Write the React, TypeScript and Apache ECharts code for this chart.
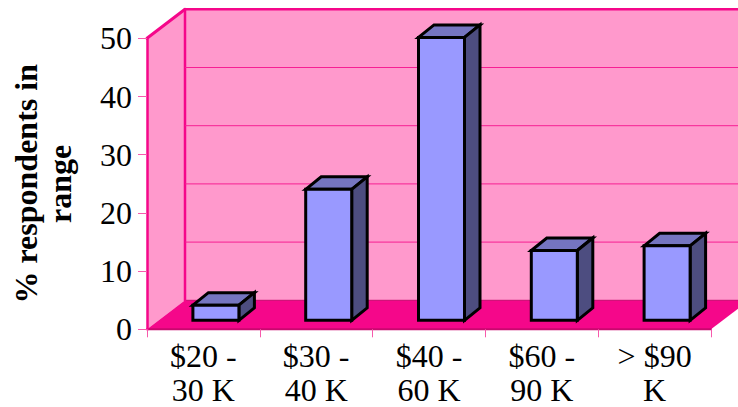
import React, { useEffect, useRef } from "react";
import * as echarts from "echarts";

const categories = ["$20 -\n30 K", "$30 -\n40 K", "$40 -\n60 K", "$60 -\n90 K", "> $90\nK"];
const shares = [2.6, 22.5, 48.6, 12, 12.8];
const gridTicks = [10, 20, 30, 40];

const PINK = "#f5078a";
const WALL = "#ff99cc";
const SERIF = '"Liberation Serif", serif';

// Perspective offsets of the 3D box, in pixels
const ROOM_DX = 38;
const ROOM_DY = -29;
const BAR_INSET_X = 12.5;
const BAR_INSET_Y = -9;
const BAR_WIDTH = 46;
const BAR_DX = 15.5;
const BAR_DY = -12.5;

function renderRoom(params: any) {
  const { x, y, width, height } = params.coordSys;
  const bottom = y + height;
  const right = x + width;
  const solid = (points: number[][], fill: string) => ({
    type: "polygon",
    shape: { points },
    style: { fill, stroke: null },
  });
  const edge = (x1: number, y1: number, x2: number, y2: number, stroke: string, lineWidth: number) => ({
    type: "line",
    shape: { x1, y1, x2, y2 },
    style: { stroke, lineWidth, lineCap: "round" },
  });
  return {
    type: "group",
    children: [
      solid(
        [
          [x + ROOM_DX, y + ROOM_DY],
          [right + ROOM_DX, y + ROOM_DY],
          [right + ROOM_DX, bottom + ROOM_DY],
          [x + ROOM_DX, bottom + ROOM_DY],
        ],
        WALL,
      ),
      solid(
        [
          [x, y],
          [x + ROOM_DX, y + ROOM_DY],
          [x + ROOM_DX, bottom + ROOM_DY],
          [x, bottom],
        ],
        WALL,
      ),
      solid(
        [
          [x, bottom],
          [x + ROOM_DX, bottom + ROOM_DY],
          [right + ROOM_DX, bottom + ROOM_DY],
          [right, bottom],
        ],
        PINK,
      ),
      edge(x + ROOM_DX, bottom + ROOM_DY, right + ROOM_DX, bottom + ROOM_DY, "#c9086f", 1),
      edge(x, bottom, right, bottom, "#c9086f", 2),
      edge(x + ROOM_DX, y + ROOM_DY, x + ROOM_DX, bottom + ROOM_DY, PINK, 2.5),
      edge(x, y, x + ROOM_DX, y + ROOM_DY, PINK, 3),
      edge(x + ROOM_DX, y + ROOM_DY, right + ROOM_DX, y + ROOM_DY, PINK, 2.5),
    ],
  };
}

function renderBackGrid(params: any, api: any) {
  const py = api.coord([0, api.value(1)])[1] + ROOM_DY;
  const { x, width } = params.coordSys;
  return {
    type: "line",
    shape: { x1: x + ROOM_DX, y1: py, x2: x + width + ROOM_DX, y2: py },
    style: { stroke: "#f71f93", lineWidth: 1 },
  };
}

function renderBar(_params: any, api: any) {
  const [cx, topY] = api.coord([api.value(0), api.value(1)]);
  const baseY = api.coord([api.value(0), 0])[1] + BAR_INSET_Y;
  const top = topY + BAR_INSET_Y;
  const left = cx + BAR_INSET_X - BAR_WIDTH / 2;
  const right = left + BAR_WIDTH;
  const outline = { stroke: "#000", lineWidth: 3, lineJoin: "miter" };
  const face = (points: number[][], fill: string) => ({
    type: "polygon",
    shape: { points },
    style: { fill, ...outline },
  });
  return {
    type: "group",
    children: [
      face(
        [
          [left, top],
          [left + BAR_DX, top + BAR_DY],
          [right + BAR_DX, top + BAR_DY],
          [right, top],
        ],
        "#7575c0",
      ),
      face(
        [
          [right, top],
          [right + BAR_DX, top + BAR_DY],
          [right + BAR_DX, baseY + BAR_DY],
          [right, baseY],
        ],
        "#4d4d80",
      ),
      face(
        [
          [left, top],
          [right, top],
          [right, baseY],
          [left, baseY],
        ],
        "#9999ff",
      ),
    ],
  };
}

export default function App() {
  const ref = useRef<HTMLDivElement>(null);

  useEffect(() => {
    document.body.style.margin = "0";
    const chart = echarts.init(ref.current!, null, { renderer: "svg" });
    chart.setOption({
      animation: false,
      backgroundColor: "#ffffff",
      grid: { left: 147, right: 27, top: 38.3, bottom: 77.7, containLabel: false, outerBoundsMode: "none" },
      xAxis: {
        type: "category",
        data: categories,
        z: 5,
        axisLine: { show: false },
        axisTick: { show: true, length: 8, lineStyle: { color: "#f75aac", width: 1 } },
        axisLabel: {
          interval: 0,
          margin: 10,
          color: "#000",
          fontFamily: SERIF,
          fontSize: 32,
          lineHeight: 34,
        },
      },
      yAxis: {
        type: "value",
        min: 0,
        max: 50,
        interval: 10,
        z: 5,
        name: "% respondents in\nrange",
        nameLocation: "middle",
        nameGap: 70,
        nameRotate: 90,
        nameTextStyle: {
          color: "#000",
          fontFamily: SERIF,
          fontWeight: "bold",
          fontSize: 32,
          lineHeight: 34,
        },
        axisLine: { show: true, lineStyle: { color: PINK, width: 2.5 } },
        axisTick: { show: true, length: 9, lineStyle: { color: "#f75aac", width: 1 } },
        axisLabel: {
          margin: 15,
          color: "#000",
          fontFamily: SERIF,
          fontSize: 32,
        },
        splitLine: { show: false },
      },
      series: [
        {
          type: "custom",
          z: 1,
          silent: true,
          clip: false,
          data: [[0, 0]],
          encode: { x: 0, y: 1 },
          renderItem: renderRoom,
        },
        {
          type: "custom",
          z: 2,
          silent: true,
          clip: false,
          data: gridTicks.map((t) => [0, t]),
          encode: { x: 0, y: 1 },
          renderItem: renderBackGrid,
        },
        {
          type: "custom",
          z: 3,
          silent: true,
          clip: false,
          data: shares.map((v, i) => [i, v]),
          encode: { x: 0, y: 1 },
          renderItem: renderBar,
        },
      ],
    });
    return () => chart.dispose();
  }, []);

  return <div ref={ref} style={{ width: 738, height: 407 }} />;
}
